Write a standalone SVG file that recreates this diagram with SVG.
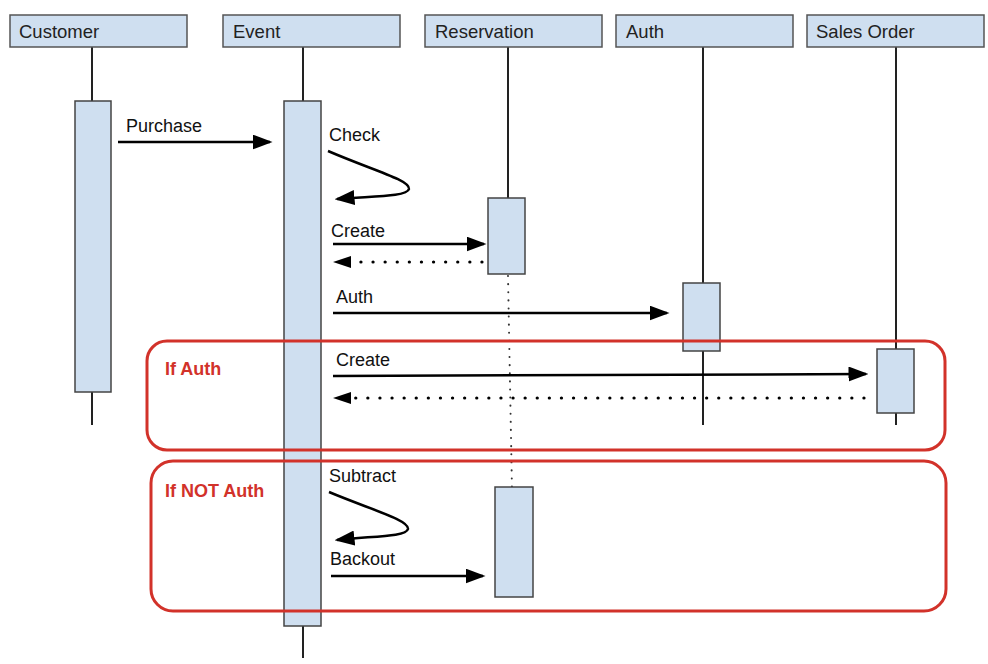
<svg xmlns="http://www.w3.org/2000/svg" width="988" height="664" viewBox="0 0 988 664">
<style>
.hdr{fill:#cfdff0;stroke:#555;stroke-width:1.5}
.act{fill:#cfdff0;stroke:#444;stroke-width:1.5}
.life{stroke:#222;stroke-width:2;fill:none}
.txt{font-family:"Liberation Sans",Arial,sans-serif;font-size:18.5px;fill:#222}
.lbl{font-family:"Liberation Sans",Arial,sans-serif;font-size:18px;fill:#111}
.msg{stroke:#000;stroke-width:2.5;fill:none}
.ret{stroke:#000;stroke-width:3.2;fill:none;stroke-dasharray:0.1 12;stroke-linecap:round}
.vdot{stroke:#333;stroke-width:2;fill:none;stroke-dasharray:0.1 8;stroke-linecap:round}
.frame{fill:none;stroke:#d2322a;stroke-width:3}
.ftxt{font-family:"Liberation Sans",Arial,sans-serif;font-size:18px;font-weight:bold;fill:#d2322a}
</style>
<defs>
<marker id="ah" markerWidth="8" markerHeight="6" refX="7" refY="3" orient="auto" markerUnits="strokeWidth">
<path d="M0,0 L8,3 L0,6 z" fill="#000"/>
</marker>
</defs>
<rect width="988" height="664" fill="#fff"/>

<g id="lifelines">
<line class="life" x1="92" y1="47" x2="92" y2="425"/>
<line class="life" x1="303" y1="47" x2="303" y2="658"/>
<line class="life" x1="508" y1="47" x2="508" y2="199"/>
<line class="vdot" x1="508" y1="276" x2="512" y2="490"/>
<line class="life" x1="703" y1="47" x2="703" y2="425"/>
<line class="life" x1="896" y1="47" x2="896" y2="425"/>
</g>

<g id="customer">
<rect class="hdr" x="10" y="15" width="177" height="32"/>
<text class="txt" x="19" y="38">Customer</text>
<rect class="act" x="75" y="101" width="36" height="291"/>
</g>
<g id="event">
<rect class="hdr" x="223" y="15" width="177" height="32"/>
<text class="txt" x="233" y="38">Event</text>
<rect class="act" x="284" y="101" width="37" height="525"/>
</g>
<g id="reservation">
<rect class="hdr" x="425" y="15" width="177" height="32"/>
<text class="txt" x="435" y="38">Reservation</text>
<rect class="act" x="488" y="198" width="37" height="76"/>
<rect class="act" x="495" y="487" width="38" height="110"/>
</g>
<g id="auth">
<rect class="hdr" x="616" y="15" width="177" height="32"/>
<text class="txt" x="626" y="38">Auth</text>
<rect class="act" x="683" y="283" width="37" height="68"/>
</g>
<g id="salesorder">
<rect class="hdr" x="807" y="15" width="177" height="32"/>
<text class="txt" x="816" y="38">Sales Order</text>
<rect class="act" x="877" y="349" width="37" height="64"/>
</g>

<g id="connectors">
<line class="msg" x1="118" y1="142" x2="270" y2="142" marker-end="url(#ah)"/>
<text class="lbl" x="126" y="132">Purchase</text>

<path class="msg" d="M328,151 C372,170 410,180 409,189 C407,197 372,196 337,199" marker-end="url(#ah)"/>
<text class="lbl" x="329" y="141">Check</text>

<line class="msg" x1="333" y1="244" x2="484" y2="244" marker-end="url(#ah)"/>
<text class="lbl" x="331" y="237">Create</text>
<line class="ret" x1="482" y1="262" x2="352" y2="262"/>
<path d="M333,262 L351,256 L351,268 z" fill="#000"/>

<line class="msg" x1="333" y1="313" x2="667" y2="313" marker-end="url(#ah)"/>
<text class="lbl" x="336" y="303">Auth</text>

<line class="msg" x1="333" y1="376" x2="866" y2="374" marker-end="url(#ah)"/>
<text class="lbl" x="336" y="366">Create</text>
<line class="ret" x1="864" y1="398" x2="352" y2="398"/>
<path d="M333,398 L351,392 L351,404 z" fill="#000"/>

<path class="msg" d="M329,492 C372,510 409,520 408,529 C406,537 372,536 337,540" marker-end="url(#ah)"/>
<text class="lbl" x="329" y="482">Subtract</text>

<line class="msg" x1="331" y1="576" x2="483" y2="576" marker-end="url(#ah)"/>
<text class="lbl" x="330" y="565">Backout</text>
</g>

<g id="if-auth">
<rect class="frame" x="147" y="341" width="798" height="109" rx="20"/>
<text class="ftxt" x="165" y="375">If Auth</text>
</g>
<g id="if-not-auth">
<rect class="frame" x="151" y="461" width="795" height="150" rx="22"/>
<text class="ftxt" x="165" y="497">If NOT Auth</text>
</g>
</svg>
